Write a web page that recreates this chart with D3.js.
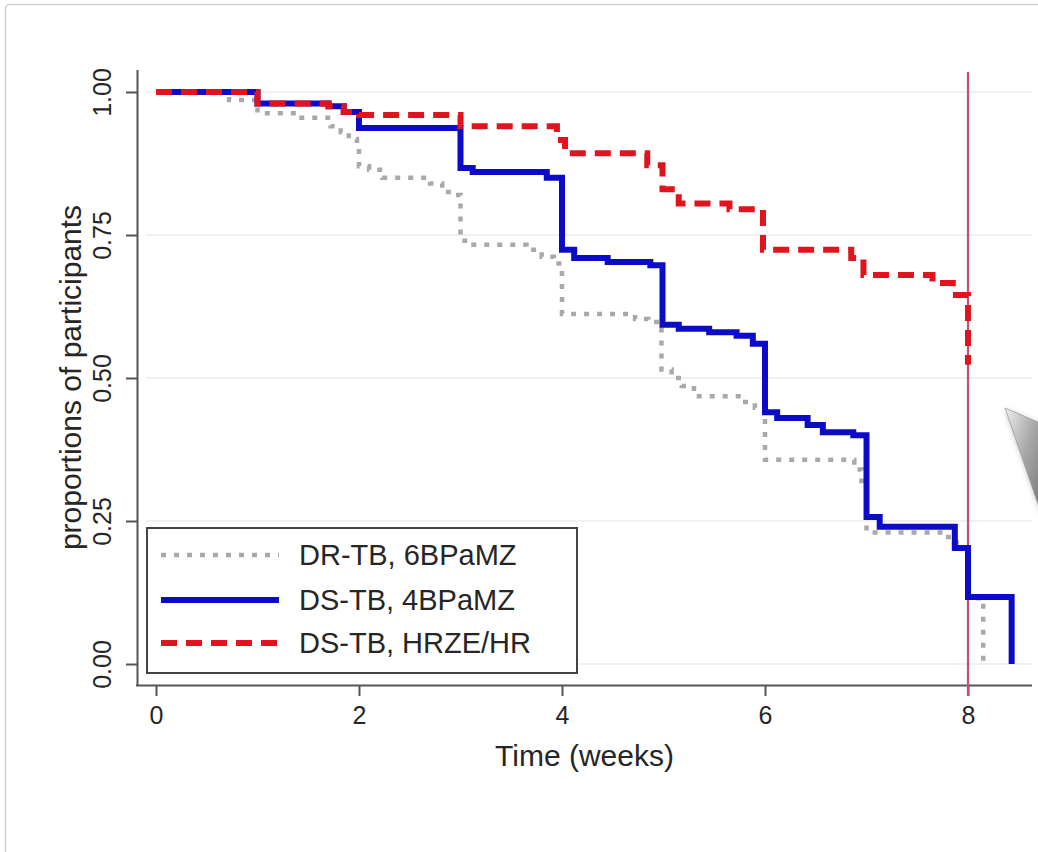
<!DOCTYPE html>
<html>
<head>
<meta charset="utf-8">
<script src="https://cdn.jsdelivr.net/npm/d3@7"></script>
<style>
  html, body { margin: 0; padding: 0; background: #ffffff; }
  svg { display: block; }
  text { font-family: "Liberation Sans", Arial, sans-serif; fill: #262626; }
</style>
</head>
<body>
<svg id="chart" width="1038" height="852"></svg>
<script>
// Kaplan-Meier step data: [week, proportion remaining from that week on]
const drTb6BPaMZ = [
  [0, 1.0], [0.72, 0.986], [1.0, 0.963], [1.38, 0.955], [1.72, 0.94], [1.82, 0.93],
  [1.9, 0.918], [1.98, 0.91], [2.0, 0.87], [2.1, 0.864], [2.23, 0.85], [2.7, 0.84],
  [2.82, 0.825], [2.92, 0.82], [3.0, 0.74], [3.1, 0.733], [3.65, 0.724], [3.8, 0.712],
  [3.92, 0.70], [4.0, 0.612], [4.72, 0.603], [4.85, 0.598], [4.98, 0.515], [5.08, 0.50],
  [5.18, 0.486], [5.3, 0.468], [5.78, 0.458], [5.9, 0.448], [6.0, 0.357], [6.88, 0.34],
  [6.95, 0.32], [7.0, 0.23], [7.75, 0.222], [7.88, 0.213], [7.95, 0.19], [8.0, 0.115],
  [8.15, 0.0]
];
const dsTb4BPaMZ = [
  [0, 1.0], [1.0, 0.98], [1.7, 0.975], [1.85, 0.965], [2.0, 0.937], [3.0, 0.867],
  [3.12, 0.86], [3.85, 0.85], [4.0, 0.724], [4.12, 0.71], [4.45, 0.703], [4.87, 0.697],
  [4.99, 0.593], [5.15, 0.586], [5.45, 0.58], [5.72, 0.574], [5.88, 0.56], [6.0, 0.44],
  [6.12, 0.43], [6.42, 0.418], [6.57, 0.405], [6.87, 0.40], [7.0, 0.257], [7.13, 0.24],
  [7.87, 0.203], [8.0, 0.117], [8.43, 0.0]
];
const dsTbHRZE = [
  [0, 1.0], [1.0, 0.98], [1.7, 0.975], [1.85, 0.965], [2.0, 0.96], [3.0, 0.94],
  [3.95, 0.916], [4.03, 0.893], [4.84, 0.872], [4.99, 0.83], [5.15, 0.805], [5.65, 0.795],
  [5.98, 0.724], [6.85, 0.71], [6.97, 0.68], [7.65, 0.666], [7.85, 0.645], [8.0, 0.523]
];

const xTicks = [0, 2, 4, 6, 8];
const yTicks = [0, 0.25, 0.5, 0.75, 1];
const yTickLabels = ["0.00", "0.25", "0.50", "0.75", "1.00"];
const referenceWeek = 8;
const seriesNames = ["DR-TB, 6BPaMZ", "DS-TB, 4BPaMZ", "DS-TB, HRZE/HR"];

const svg = d3.select("#chart");

// outer card frame
svg.append("rect")
  .attr("x", 5.5).attr("y", 4.5).attr("width", 1060).attr("height", 880)
  .attr("rx", 4).attr("fill", "#ffffff").attr("stroke", "#cfcfcf").attr("stroke-width", 1.5);

const x = d3.scaleLinear().domain([0, 8]).range([156, 968]);
const y = d3.scaleLinear().domain([0, 1]).range([664, 92]);

const plotLeft = 137, plotRight = 1032, plotTop = 70, plotBottom = 685;

// horizontal grid
svg.append("g").selectAll("line").data(yTicks).join("line")
  .attr("x1", 146).attr("x2", plotRight)
  .attr("y1", d => y(d)).attr("y2", d => y(d))
  .attr("stroke", "#ececec").attr("stroke-width", 1.5);

// x axis
const xAxis = svg.append("g")
  .attr("transform", `translate(0,${plotBottom})`)
  .call(d3.axisBottom(x).tickValues(xTicks).tickSize(11).tickPadding(10).tickFormat(d3.format("d")));
xAxis.select(".domain").attr("d", `M${plotLeft - 1},0.5H${plotRight}`)
  .attr("stroke", "#555").attr("stroke-width", 2);
xAxis.selectAll(".tick line").attr("stroke", "#555").attr("stroke-width", 2);
xAxis.selectAll(".tick text")
  .attr("font-size", 25).attr("fill", "#262626").attr("font-family", "Liberation Sans, Arial, sans-serif");

// y axis
const yAxis = svg.append("g")
  .attr("transform", `translate(${plotLeft},0)`)
  .call(d3.axisLeft(y).tickValues(yTicks).tickSize(11).tickFormat((d, i) => yTickLabels[i]));
yAxis.select(".domain").attr("d", `M0.5,${plotTop}V${plotBottom + 1}`)
  .attr("stroke", "#555").attr("stroke-width", 2);
yAxis.selectAll(".tick line").attr("stroke", "#555").attr("stroke-width", 2);
yAxis.selectAll(".tick text")
  .attr("font-size", 25).attr("fill", "#262626").attr("font-family", "Liberation Sans, Arial, sans-serif")
  .attr("x", null).attr("dy", null)
  .attr("text-anchor", "middle")
  .attr("transform", "translate(-26,0) rotate(-90)");

// axis titles
svg.append("text")
  .attr("x", (plotLeft + plotRight) / 2).attr("y", 766)
  .attr("text-anchor", "middle").attr("font-size", 30)
  .text("Time (weeks)");
svg.append("text")
  .attr("transform", `translate(81,${(plotTop + plotBottom) / 2}) rotate(-90)`)
  .attr("text-anchor", "middle").attr("font-size", 30)
  .text("proportions of participants");

// reference line at week 8
svg.append("line")
  .attr("x1", x(referenceWeek)).attr("x2", x(referenceWeek))
  .attr("y1", 72).attr("y2", 696)
  .attr("stroke", "#c4506e").attr("stroke-width", 2.2);

const step = d3.line().x(d => x(d[0])).y(d => y(d[1])).curve(d3.curveStepAfter);

const styles = [
  { data: drTb6BPaMZ, color: "#a9a9a9", width: 4.5, dash: "5 8" },
  { data: dsTb4BPaMZ, color: "#0c0cc8", width: 6, dash: null },
  { data: dsTbHRZE, color: "#e0141e", width: 6, dash: "16 9" }
];

styles.forEach(s => {
  svg.append("path")
    .attr("d", step(s.data))
    .attr("fill", "none")
    .attr("stroke", s.color)
    .attr("stroke-width", s.width)
    .attr("stroke-dasharray", s.dash)
    .attr("stroke-linejoin", "miter");
});

// legend
const legend = svg.append("g");
legend.append("rect")
  .attr("x", 147).attr("y", 528).attr("width", 430).attr("height", 145)
  .attr("fill", "#ffffff").attr("stroke", "#444").attr("stroke-width", 2);
const rowY = [555, 600, 643];
styles.forEach((s, i) => {
  legend.append("line")
    .attr("x1", 161).attr("x2", 279).attr("y1", rowY[i]).attr("y2", rowY[i])
    .attr("stroke", s.color).attr("stroke-width", s.width)
    .attr("stroke-dasharray", s.dash);
  legend.append("text")
    .attr("x", 299).attr("y", rowY[i]).attr("dy", "0.36em")
    .attr("font-size", 29)
    .text(seriesNames[i]);
});

// page-turn pointer at the right edge
const defs = svg.append("defs");
const grad = defs.append("linearGradient").attr("id", "pointerGrad")
  .attr("x1", "0").attr("y1", "0").attr("x2", "1").attr("y2", "1");
grad.append("stop").attr("offset", "0").attr("stop-color", "#eeeeee");
grad.append("stop").attr("offset", "0.5").attr("stop-color", "#a8a8a8");
grad.append("stop").attr("offset", "1").attr("stop-color", "#7a7a7a");
defs.append("filter").attr("id", "pointerShadow")
  .append("feDropShadow").attr("dx", 2).attr("dy", 3).attr("stdDeviation", 3)
  .attr("flood-color", "#000").attr("flood-opacity", 0.3);
svg.append("path")
  .attr("d", "M1005,408 L1040,423 L1040,510 Z")
  .attr("fill", "url(#pointerGrad)")
  .attr("stroke", "#9a9a9a").attr("stroke-width", 0.8)
  .attr("filter", "url(#pointerShadow)");
</script>
</body>
</html>
